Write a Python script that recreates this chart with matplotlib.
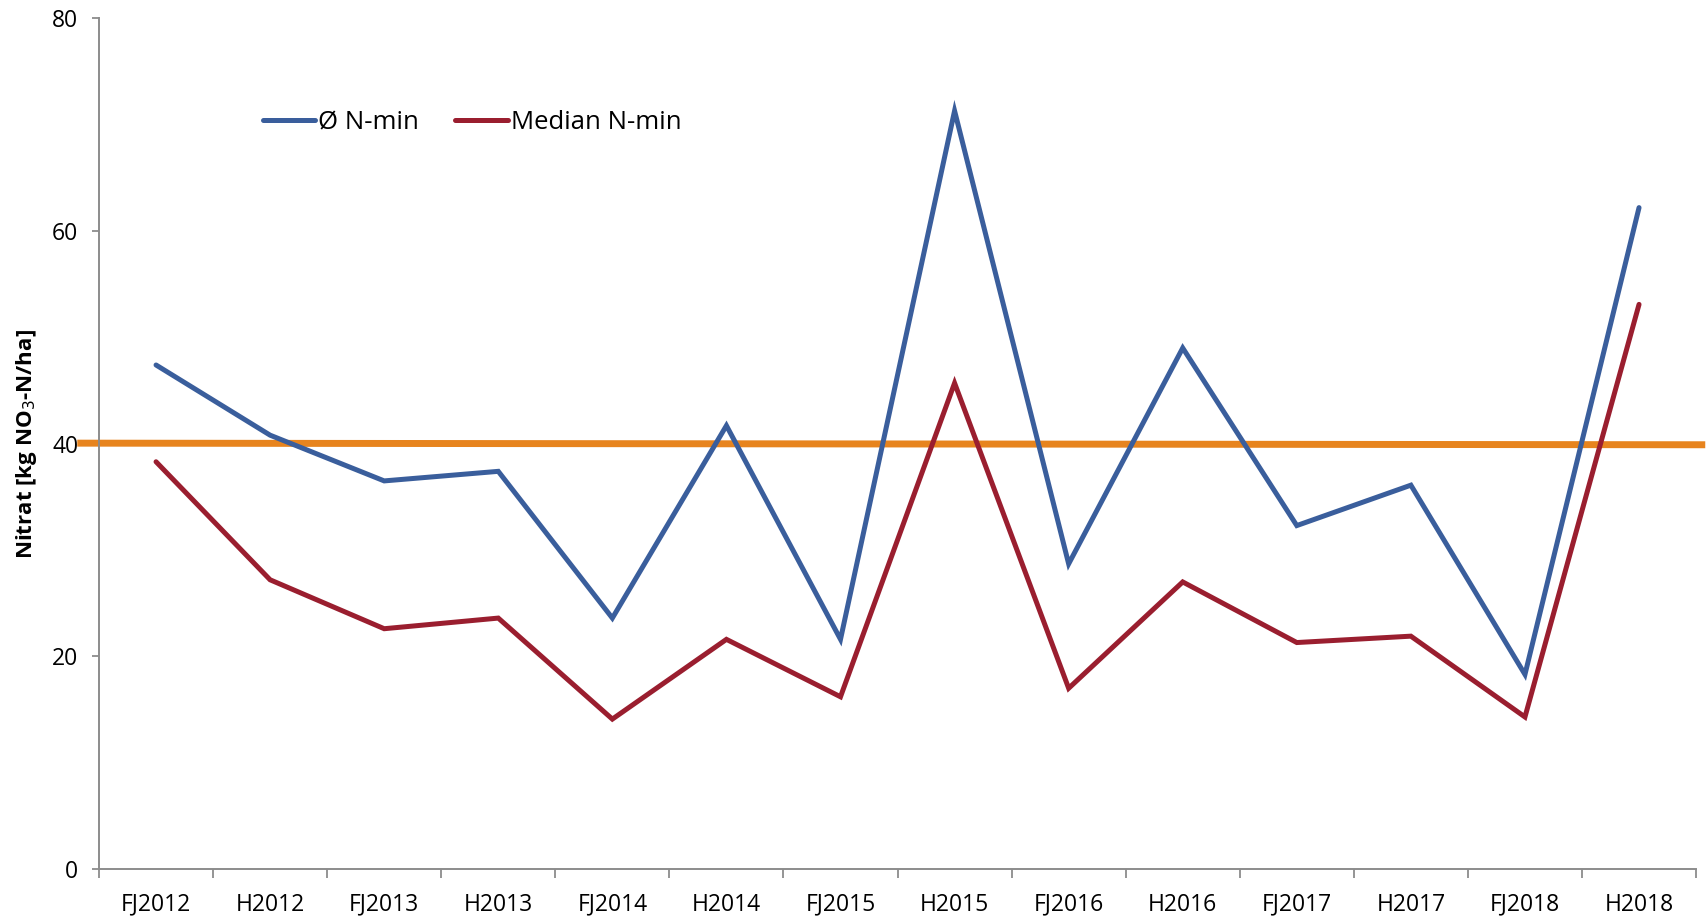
import matplotlib
matplotlib.use('Agg')
import matplotlib.pyplot as plt
import numpy as np

# values
categories = ['FJ2012', 'H2012', 'FJ2013', 'H2013', 'FJ2014', 'H2014', 'FJ2015',
              'H2015', 'FJ2016', 'H2016', 'FJ2017', 'H2017', 'FJ2018', 'H2018']
mean_nmin = [47.4, 40.8, 36.5, 37.4, 23.6, 41.7, 21.6, 71.3, 28.7, 49.0, 32.3, 36.1, 18.3, 62.2]
median_nmin = [38.3, 27.2, 22.6, 23.6, 14.1, 21.6, 16.2, 45.7, 17.0, 27.0, 21.3, 21.9, 14.3, 53.1]
limit_line = [40.05, 39.9]
yticks = [0, 20, 40, 60, 80]

plt.rcParams['font.family'] = ['Open Sans', 'DejaVu Sans']

fig = plt.figure(figsize=(17.07, 9.17), dpi=100)
ax = fig.add_axes([0.058, 0.0523, 0.9356, 0.9277])

x = np.arange(len(categories))

ax.plot(x, mean_nmin, color='#3A5E9C', lw=3.6, solid_capstyle='round', solid_joinstyle='miter', label='Ø N-min', zorder=3)
ax.plot(x, median_nmin, color='#9A1E2F', lw=3.6, solid_capstyle='round', solid_joinstyle='miter', label='Median N-min', zorder=3)

# orange reference line at 40 (drawn a bit past the y axis like the original)
ax.plot([-0.66, 13.55], limit_line, color='#E7841E', lw=5.0, clip_on=False, zorder=2)

ax.set_xlim(-0.5, 13.5)
ax.set_ylim(0, 80)

ax.set_xticks(x)
ax.set_xticklabels(categories)
ax.set_xticks(np.arange(-0.5, 14, 1), minor=True)
ax.tick_params(axis='x', which='major', length=0, pad=17, labelsize=16.5)
ax.tick_params(axis='x', which='minor', length=6.5, color='#8C8C8C', width=1.3)

ax.set_yticks(yticks)
ax.tick_params(axis='y', length=5, color='#8C8C8C', width=1.3, labelsize=16.5, pad=10)

for s in ['top', 'right']:
    ax.spines[s].set_visible(False)
for s in ['left', 'bottom']:
    ax.spines[s].set_color('#8C8C8C')
    ax.spines[s].set_linewidth(1.4)

ax.set_ylabel('Nitrat [kg NO$_3$-N/ha]', fontsize=16, fontweight='bold')
ax.yaxis.set_label_coords(-0.0375, 0.5)

ax.legend(loc='center left', bbox_to_anchor=(0.088, 0.877), ncol=2, frameon=False,
          fontsize=18.5, handlelength=2.05, handletextpad=0.12, columnspacing=1.4)

fig.savefig('out.png', dpi=100)
